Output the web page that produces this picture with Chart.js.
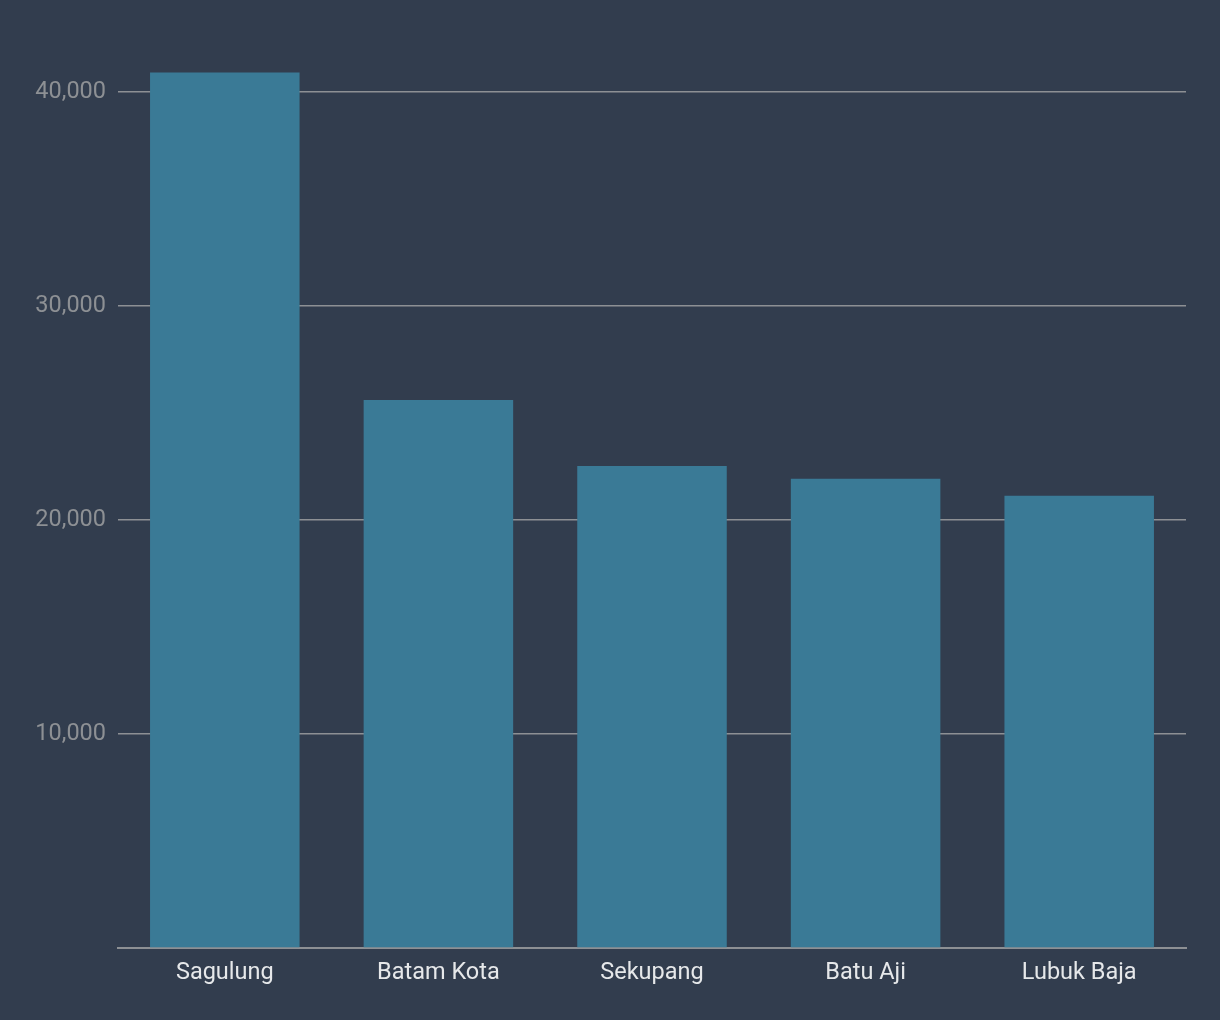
<!DOCTYPE html>
<html>
<head>
<meta charset="utf-8">
<script src="https://cdn.jsdelivr.net/npm/chart.js@4"></script>
<style>
html,body{margin:0;padding:0;background:#323d4e;}
#wrap{width:1220px;height:1020px;position:relative;}
</style>
</head>
<body>
<div id="wrap"><canvas id="c" width="1220" height="1020"></canvas></div>
<script>
const categories = ["Sagulung", "Batam Kota", "Sekupang", "Batu Aji", "Lubuk Baja"];
const values = [40900, 25600, 22520, 21920, 21130];
const yTickValues = [0, 10000, 20000, 30000, 40000];

new Chart(document.getElementById('c'), {
  type: 'bar',
  data: {
    labels: categories,
    datasets: [{
      data: values,
      backgroundColor: '#3a7a96',
      borderWidth: 0,
      categoryPercentage: 0.7,
      barPercentage: 1.0
    }]
  },
  options: {
    responsive: false,
    animation: false,
    layout: { padding: { top: 49, right: 34, bottom: 0, left: 0 } },
    plugins: { legend: { display: false }, tooltip: { enabled: false } },
    scales: {
      x: {
        grid: { display: false, drawTicks: false },
        border: { display: true, color: '#8d9094', width: 2 },
        ticks: { color: '#e6e8ea', font: { family: 'Roboto', size: 23.5 }, padding: 11 },
        afterFit: s => { s.height = 72; }
      },
      y: {
        min: 0,
        max: 42000,
        afterBuildTicks: s => { s.ticks = yTickValues.map(v => ({ value: v })); },
        grid: { color: '#8d9094', lineWidth: 1.6, drawTicks: false },
        border: { display: false },
        ticks: {
          color: '#8d9094',
          font: { family: 'Roboto', size: 23.5 },
          padding: 12,
          callback: v => v === 0 ? '' : v.toLocaleString('en-US')
        },
        afterFit: s => { s.width = 118; }
      }
    }
  },
  plugins: [{
    id: 'bg',
    beforeDraw: c => { const x = c.ctx; x.save(); x.fillStyle = '#323d4e'; x.fillRect(0, 0, c.width, c.height); x.restore(); }
  }]
});
</script>
</body>
</html>
